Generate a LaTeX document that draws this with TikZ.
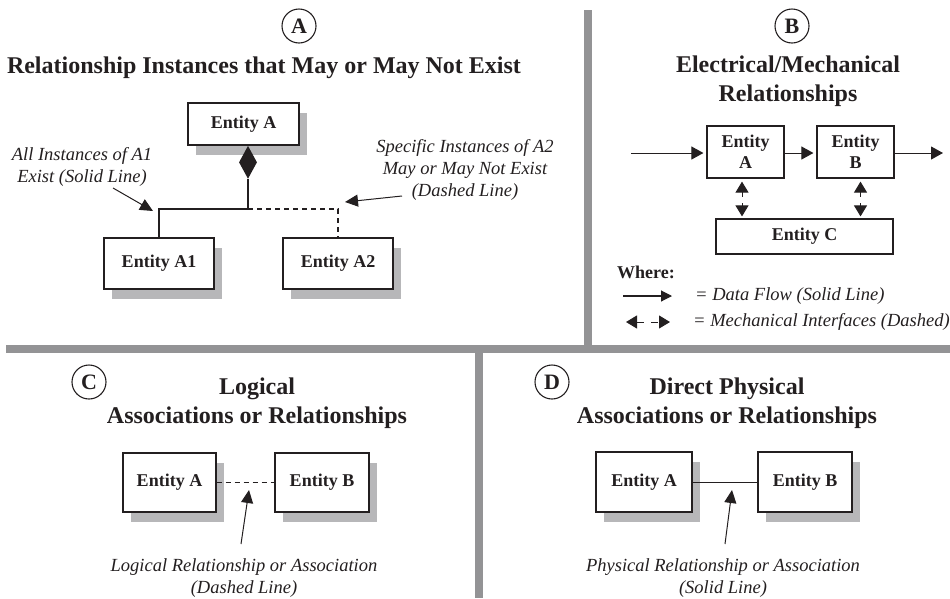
\documentclass[tikz,border=0pt]{standalone}
\usepackage{fontspec}
\setmainfont{Liberation Serif}
\usetikzlibrary{arrows.meta,shapes.geometric,shadows}
\definecolor{ink}{HTML}{231F20}
\definecolor{divider}{HTML}{939395}
\definecolor{shade}{HTML}{B7B7B9}

\begin{document}
\begin{tikzpicture}[x=1pt,y=-1pt,
  every node/.style={text=ink},
  ent/.style={draw=ink, line width=1.2pt, fill=white, inner sep=0pt,
    font=\fontsize{18}{22}\selectfont\bfseries, align=center},
  shadowed/.style={drop shadow={shadow xshift=8pt, shadow yshift=-10pt,
    fill=shade, opacity=1}},
  tag/.style={circle, draw=ink, line width=1.1pt, minimum size=34pt,
    inner sep=0pt, font=\fontsize{22}{22}\selectfont\bfseries},
  heading/.style={font=\fontsize{24}{29}\selectfont\bfseries, align=center},
  note/.style={font=\fontsize{18.5}{22}\selectfont\itshape, align=center},
  plain/.style={font=\fontsize{18}{22}\selectfont\bfseries},
  link/.style={draw=ink, line width=1.1pt},
  dashlink/.style={link, dash pattern=on 5pt off 4pt},
  pointer/.style={draw=ink, line width=1pt, -{Triangle[length=13pt,width=12pt]}},
  flow/.style={draw=ink, line width=1pt, -{Triangle[length=12pt,width=13pt]}},
  mech/.style={draw=ink, line width=1pt, dash pattern=on 5pt off 6pt,
    {Triangle[length=11pt,width=13pt]}-{Triangle[length=11pt,width=13pt]}},
  bar/.style={draw=divider, line width=8pt}
]
\useasboundingbox (0,0) rectangle (950,598);

% panel dividers
\draw[bar] (6,348.5) -- (950,348.5);
\draw[bar] (588,10) -- (588,344.5);
\draw[bar] (478.5,352.5) -- (478.5,598);

% ---------- panel A ----------
\node[tag] (tagA) at (299,26) {A};
\node[heading] (titleA) at (264,68) {Relationship Instances that May or May Not Exist};
\node[ent, shadowed, minimum width=111pt, minimum height=42pt] (EA) at (243.5,124) {Entity A};
\node[ent, shadowed, minimum width=110pt, minimum height=51pt] (EA1) at (159,263.5) {Entity A1};
\node[ent, shadowed, minimum width=110pt, minimum height=51pt] (EA2) at (338,263.5) {Entity A2};
\node[diamond, fill=ink, inner sep=0pt, minimum width=18pt, minimum height=33pt, anchor=north]
  (dia) at ([xshift=4.5pt]EA.south) {};
\coordinate (j) at (248,209);
\draw[link] (dia.south) -- (j) -| (EA1.north);
\draw[dashlink] (j) -| (EA2.north);

\node[note] (noteA1) at (82,167) {All Instances of A1\\Exist (Solid Line)};
\node[note] (noteA2) at (465,170) {Specific Instances of A2\\May or May Not Exist\\(Dashed Line)};
\coordinate (pA1s) at (113,188);
\coordinate (pA1e) at (153,211);
\coordinate (pA2s) at (402,196);
\coordinate (pA2e) at (345,202);
\draw[pointer] (pA1s) -- (pA1e);
\draw[pointer] (pA2s) -- (pA2e);

% ---------- panel B ----------
\node[tag] (tagB) at (792,26) {B};
\node[heading] (titleB) at (788,81) {Electrical/Mechanical\\Relationships};
\node[ent, minimum width=77pt, minimum height=52pt] (BA) at (745.5,152) {Entity\\[-1pt]A};
\node[ent, minimum width=77pt, minimum height=52pt] (BB) at (855.5,152) {Entity\\[-1pt]B};
\node[ent, minimum width=177pt, minimum height=35pt] (BC) at (804.5,236.5) {Entity C};
\coordinate (inB) at (631,153);
\coordinate (outB) at (943,153);
\draw[flow, shorten >=3pt] (inB) -- (inB -| BA.west);
\draw[flow, shorten >=3pt] (BA.east |- inB) -- (BB.west |- inB);
\draw[flow] (BB.east |- inB) -- (outB);
\coordinate (m1) at (742,0);
\coordinate (m2) at (860.5,0);
\draw[mech, shorten <=3pt, shorten >=2pt] (BA.south -| m1) -- (BC.north -| m1);
\draw[mech, shorten <=3pt, shorten >=2pt] (BB.south -| m2) -- (BC.north -| m2);

\node[plain, anchor=west, inner sep=0pt] (where) at (617,272) {Where:};
\coordinate (lg1s) at (623,296);
\coordinate (lg1e) at (672,296);
\coordinate (lg2s) at (626,322);
\coordinate (lg2e) at (670,322);
\draw[flow, line width=1.1pt, -{Triangle[length=11pt,width=11pt]}] (lg1s) -- (lg1e);
\draw[mech, dash pattern=on 7pt off 7pt] (lg2s) -- (lg2e);
\node[note, anchor=west, inner sep=0pt] (lgt1) at (695,296) {= Data Flow (Solid Line)};
\node[note, anchor=west, inner sep=0pt] (lgt2) at (693,322) {= Mechanical Interfaces (Dashed)};

% ---------- panel C ----------
\node[tag] (tagC) at (89,382) {C};
\node[heading] (titleC) at (257,403) {Logical\\Associations or Relationships};
\node[ent, shadowed, minimum width=93pt, minimum height=59pt] (CA) at (169.5,482.5) {Entity A};
\node[ent, shadowed, minimum width=94pt, minimum height=59pt] (CB) at (322,482.5) {Entity B};
\draw[dashlink, line width=1pt] (CA.east) -- (CB.west);
\node[note] (noteC) at (244,578) {Logical Relationship or Association\\(Dashed Line)};
\coordinate (pCs) at (241,544);
\coordinate (pCe) at (249,490);
\draw[pointer] (pCs) -- (pCe);

% ---------- panel D ----------
\node[tag] (tagD) at (552,382) {D};
\node[heading] (titleD) at (727,403) {Direct Physical\\Associations or Relationships};
\node[ent, shadowed, minimum width=96pt, minimum height=60pt] (DA) at (644,482) {Entity A};
\node[ent, shadowed, minimum width=94pt, minimum height=60pt] (DB) at (805,482) {Entity B};
\draw[link, line width=1pt] (DA.east) -- (DB.west);
\node[note] (noteD) at (723,578) {Physical Relationship or Association\\(Solid Line)};
\coordinate (pDs) at (725,544);
\coordinate (pDe) at (732,490);
\draw[pointer] (pDs) -- (pDe);
\end{tikzpicture}
\end{document}
